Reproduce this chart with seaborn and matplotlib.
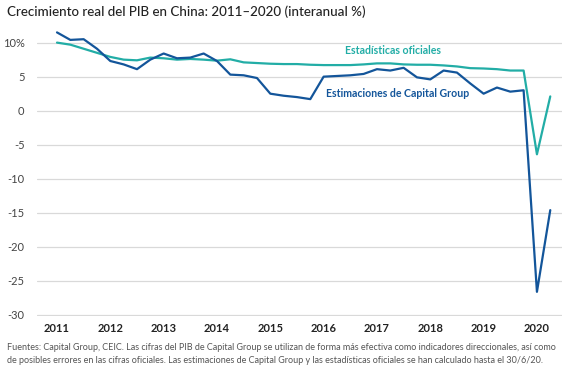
import pandas as pd
import seaborn as sns
import matplotlib.pyplot as plt
from matplotlib.ticker import FuncFormatter

# quarterly year-over-year real GDP growth, 2011Q1 .. 2020Q2
quarters = pd.period_range("2011Q1", "2020Q2", freq="Q")

capitalGroup = [11.5, 10.4, 10.5, 9.1,
                7.3, 6.8, 6.1, 7.5,
                8.4, 7.7, 7.8, 8.4,
                7.3, 5.3, 5.2, 4.8,
                2.5, 2.2, 2.0, 1.7,
                5.0, 5.1, 5.2, 5.4,
                6.1, 5.9, 6.3, 4.9,
                4.6, 5.9, 5.6, 4.0,
                2.5, 3.4, 2.8, 3.0,
                -26.6, -14.6]

official = [10.0, 9.7, 9.1, 8.5,
            7.9, 7.5, 7.4, 7.8,
            7.7, 7.5, 7.6, 7.5,
            7.35, 7.55, 7.1, 7.0,
            6.9, 6.85, 6.85, 6.75,
            6.7, 6.7, 6.7, 6.8,
            6.95, 6.95, 6.8, 6.75,
            6.75, 6.65, 6.5, 6.25,
            6.2, 6.1, 5.9, 5.9,
            -6.4, 2.1]

yearTicks = list(range(2011, 2021))
yTicks = [10, 5, 0, -5, -10, -15, -20, -25, -30]

titleText = "Crecimiento real del PIB en China: 2011\u20132020 (interanual %)"
labelOfficial = "Estadísticas oficiales"
labelCapital = "Estimaciones de Capital Group"
footText = ("Fuentes: Capital Group, CEIC. Las cifras del PIB de Capital Group se utilizan de forma más efectiva como indicadores direccionales, así como\n"
            "de posibles errores en las cifras oficiales. Las estimaciones de Capital Group y las estadísticas oficiales se han calculado hasta el 30/6/20.")

BLUE = "#13559a"
TEAL = "#22ada6"

dataFrame = pd.DataFrame({
    "fecha": [q.year + (q.quarter - 1) / 4 for q in quarters],
    "Capital Group": capitalGroup,
    "Oficial": official,
})

sns.set_theme(style="white")
plt.rcParams["font.family"] = ["Lato", "DejaVu Sans"]

fig = plt.figure(figsize=(5.71, 3.68), dpi=100)
ax = fig.add_axes([37 / 571, 1 - 316 / 368, 525 / 571, (316 - 29) / 368])

sns.lineplot(data=dataFrame, x="fecha", y="Oficial", color=TEAL, linewidth=1.6, ax=ax)
sns.lineplot(data=dataFrame, x="fecha", y="Capital Group", color=BLUE, linewidth=1.6, ax=ax)

ax.set_xlim(2010.625, 2020.47)
ax.set_ylim(-30.15, 12)
ax.set_yticks(yTicks)
ax.yaxis.set_major_formatter(FuncFormatter(lambda v, p : f"{int(v)}%" if v == 10 else f"{int(v)}"))
ax.grid(axis="y", color="#d9d9d9", linewidth=0.9)
ax.set_axisbelow(True)
for side in ["left", "right", "top"] :
    ax.spines[side].set_visible(False)
ax.tick_params(axis="y", length=0, pad=9, labelsize=8, labelcolor="#444444")
ax.set_xlabel("")
ax.set_ylabel("")

# small year ticks hanging from the zero line
ax.spines["bottom"].set_position(("data", 0))
ax.spines["bottom"].set_visible(False)
ax.set_xticks(yearTicks)
ax.tick_params(axis="x", direction="out", length=4, width=0.8, color="#cfcfcf", labelbottom=False)

secAxis = ax.secondary_xaxis(0.0)
secAxis.set_xticks(yearTicks)
secAxis.set_xticklabels([str(y) for y in yearTicks], fontweight="bold", fontsize=8, color="#222222")
secAxis.tick_params(length=0, pad=5)
secAxis.spines["bottom"].set_visible(False)

ax.text(2017.3, 8.8, labelOfficial, color=TEAL, fontsize=7.6, fontweight="bold",
        ha="center", va="center")
ax.text(2017.39, 2.6, labelCapital, color=BLUE, fontsize=7.6, fontweight="bold",
        ha="center", va="center")

fig.text(7 / 571, 1 - 12 / 368, titleText, fontsize=9.6, fontweight="medium", color="#222222",
         ha="left", va="center")
fig.text(7 / 571, 1 - 354 / 368, footText, fontsize=6.5, color="#555555", ha="left", va="center",
         linespacing=1.55)

fig.savefig("out.png", dpi=100)
